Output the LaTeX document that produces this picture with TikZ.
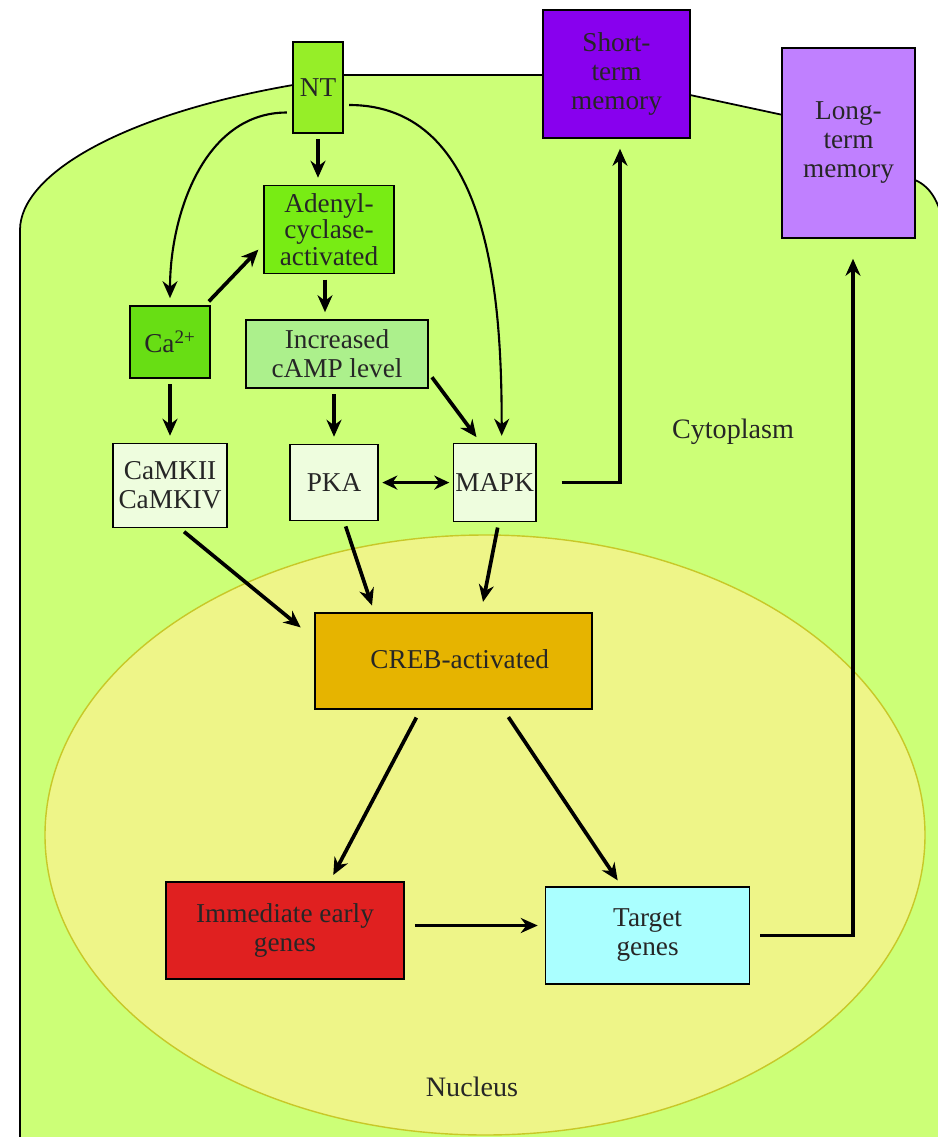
\documentclass[tikz,border=0pt]{standalone}
\usepackage{fontspec}
\setmainfont{Liberation Serif}
\usetikzlibrary{arrows.meta,positioning}
\definecolor{cytogreen}{RGB}{204,255,119}
\definecolor{nucyellow}{RGB}{238,245,136}
\definecolor{nucedge}{RGB}{200,200,40}
\definecolor{ntgreen}{RGB}{150,238,40}
\definecolor{adcgreen}{RGB}{120,236,20}
\definecolor{cagreen}{RGB}{104,222,20}
\definecolor{campgreen}{RGB}{172,240,140}
\definecolor{kinasefill}{RGB}{238,253,222}
\definecolor{crebfill}{RGB}{230,180,0}
\definecolor{iegred}{RGB}{224,32,32}
\definecolor{targetcyan}{RGB}{170,255,255}
\definecolor{stmpurple}{RGB}{136,0,238}
\definecolor{ltmpurple}{RGB}{192,128,255}
\tikzset{
  pathbox/.style={draw=black, line width=0.9pt, align=center, inner sep=1pt, text=black!85, font=\fontsize{15.5}{16.5}\selectfont},
  greenbox/.style={pathbox, fill=adcgreen},
  kinasebox/.style={pathbox, fill=kinasefill},
  genebox/.style={pathbox, fill=targetcyan},
  memorybox/.style={pathbox, fill=ltmpurple},
  flowarrow/.style={-{Stealth[length=0.34cm,width=0.3cm]}, line width=2.1pt, shorten >=4pt, shorten <=3pt},
  ntarrow/.style={flowarrow, line width=1.2pt},
  regionlabel/.style={font=\fontsize{16}{17}\selectfont, text=black!85}
}

\begin{document}
\begin{tikzpicture}
  \useasboundingbox (0,0) rectangle (18.76,-22.74);
  \clip (0,0) rectangle (18.76,-22.74);
  \fill[white] (0,0) rectangle (18.76,-22.74);
  % cell and nucleus
  \draw[fill=cytogreen, line width=1pt] (0.4,-23) -- (0.4,-4.6)
    .. controls (0.4,-3.5) and (2.4,-2.3) .. (5.86,-1.7) -- (6.86,-1.5) -- (10.86,-1.5)
    -- (13.8,-1.9) -- (15.66,-2.3) -- (18.3,-3.6)
    .. controls (18.65,-3.75) and (18.8,-4.1) .. (18.9,-4.6) -- (18.9,-23) -- cycle;
  \draw[fill=nucyellow, draw=nucedge, line width=0.8pt] (9.7,-16.7) ellipse [x radius=8.8, y radius=6.0];

  \node[greenbox, fill=ntgreen, minimum width=1cm, minimum height=1.82cm] (nt) at (6.36,-1.75) {NT};
  \node[memorybox, fill=stmpurple, minimum width=2.94cm, minimum height=2.56cm] (stm) at (12.33,-1.48) {Short-\\term\\memory};
  \node[memorybox, minimum width=2.66cm, minimum height=3.8cm] (ltm) at (16.97,-2.86) {Long-\\term\\memory};
  \node[greenbox, below=1.02cm of nt, xshift=0.22cm, minimum width=2.6cm, minimum height=1.76cm, font=\fontsize{15.5}{13.5}\selectfont] (adc) {Adenyl-\\cyclase-\\activated};
  \node[greenbox, fill=cagreen, minimum width=1.6cm, minimum height=1.44cm] (ca) at (3.4,-6.84) {Ca\textsuperscript{2+}};
  \node[greenbox, fill=campgreen, minimum width=3.64cm, minimum height=1.36cm] (camp) at (6.74,-7.08) {Increased\\cAMP level};
  \node[kinasebox, below=1.28cm of ca, minimum width=2.28cm, minimum height=1.68cm] (camk) {CaMKII\\CaMKIV};
  \node[kinasebox, below=1.1cm of camp, xshift=-0.06cm, minimum width=1.76cm, minimum height=1.52cm] (pka) {PKA};
  \node[kinasebox, right=1.48cm of pka, minimum width=1.64cm, minimum height=1.56cm] (mapk) {MAPK};
  \node[pathbox, fill=crebfill, minimum width=5.54cm, minimum height=1.92cm] (creb) at (9.07,-13.22) {\hspace{0.25cm}\raisebox{0.08cm}{CREB-activated}};
  \node[pathbox, fill=iegred, minimum width=4.76cm, minimum height=1.94cm] (ieg) at (5.7,-18.61) {Immediate early\\genes};
  \node[genebox, right=2.8cm of ieg, yshift=-0.1cm, minimum width=4.08cm, minimum height=1.94cm] (tg) {Target\\genes};
  \node[regionlabel] (cyto) at (14.66,-8.64) {Cytoplasm};
  \node[regionlabel] (nucl) at (9.44,-21.74) {Nucleus};

  % signalling
  \draw[flowarrow] (nt.south -| adc.north) ++(-0.22,0) coordinate (ntbot) -- (ntbot |- adc.north);
  \draw[ntarrow] ([yshift=-0.5cm]nt.west) to[out=180, in=90] (ca.north);
  \draw[ntarrow] ([yshift=-0.35cm]nt.east) to[out=0, in=90] ([xshift=0.14cm]mapk.north);
  \draw[flowarrow] (ca) -- ([yshift=-0.3cm]adc.west);
  \draw[flowarrow] ([xshift=-0.08cm]adc.south) -- ([xshift=-0.08cm]adc.south |- camp.north);
  \draw[flowarrow] (ca.south) -- (camk.north);
  \draw[flowarrow] (pka.north |- camp.south) -- (pka.north);
  \draw[flowarrow] ([yshift=-0.38cm]camp.east) -- ([xshift=-0.28cm]mapk.north);
  \draw[flowarrow, {Stealth[length=0.3cm,width=0.28cm]}-{Stealth[length=0.3cm,width=0.28cm]}, shorten <=2pt, shorten >=2pt] (pka.east) -- (mapk.west);
  \draw[flowarrow, shorten <=0.5cm, shorten >=0.2cm] (mapk.east) -| ([xshift=0.07cm]stm.south);
  \draw[flowarrow, shorten >=0.35cm] ([xshift=0.2cm]camk.south) -- ([yshift=0.45cm]creb.west);
  \draw[flowarrow] ([xshift=0.2cm]pka.south) -- ([xshift=1.2cm]creb.north west);
  \draw[flowarrow, shorten >=6pt] ([xshift=0.08cm]mapk.south) -- ([xshift=0.55cm]creb.north);
  \draw[flowarrow, shorten <=5pt] ([xshift=-0.66cm]creb.south) -- ([xshift=0.9cm]ieg.north);
  \draw[flowarrow, shorten <=5pt] ([xshift=1.0cm]creb.south) -- ([xshift=-0.52cm]tg.north);
  \draw[flowarrow, shorten <=0.2cm] ([yshift=0.1cm]ieg.east) -- ([yshift=0.1cm]ieg.east -| tg.west);
  \draw[flowarrow, shorten <=0.2cm, shorten >=0.4cm] (tg.east) -| ([xshift=0.09cm]ltm.south);
\end{tikzpicture}
\end{document}
